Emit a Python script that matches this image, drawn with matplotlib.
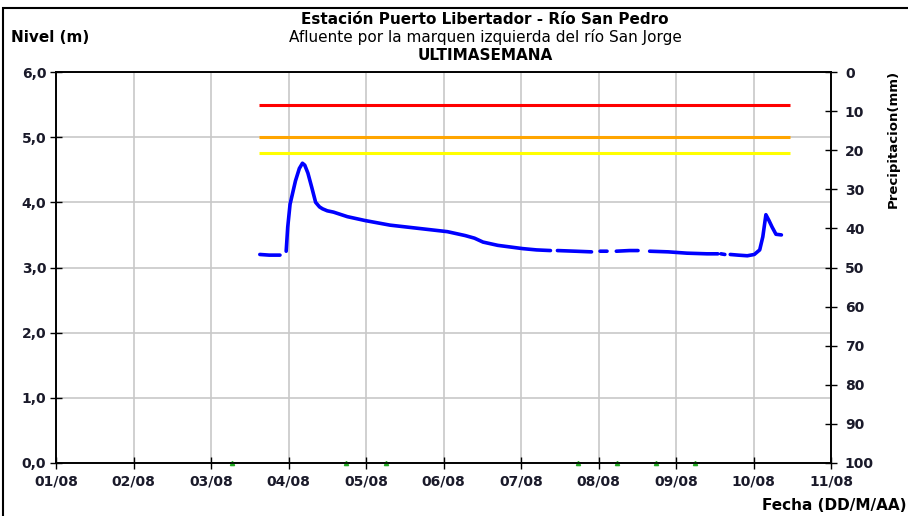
import numpy as np
import matplotlib
matplotlib.use("Agg")
import matplotlib.pyplot as plt
from matplotlib.patches import Rectangle

nan = np.nan

# day offsets from 01/08 and river level (m); nan = gap in record
nivel_dias = [2.63, 2.75, 2.89, 2.93, 2.97, 2.99, 3.02, 3.09, 3.14, 3.18, 3.21, 3.25,
              3.30, 3.35, 3.40, 3.44, 3.50, 3.58, 3.76, 3.99, 4.31, 4.68, 5.05, 5.28,
              5.40, 5.51, 5.70, 6.02, 6.20, 6.38, 6.42, 6.47, 6.70, 6.91, 6.96, 7.02,
              7.11, 7.17, 7.23, 7.40, 7.51, 7.58, 7.66, 7.90, 8.14, 8.40, 8.54, 8.56,
              8.58, 8.63, 8.66, 8.70, 8.80, 8.92, 9.01, 9.08, 9.12, 9.16, 9.20, 9.24,
              9.29, 9.36]
nivel_m = [3.20, 3.19, 3.19, nan, 3.25, 3.62, 3.97, 4.33, 4.52, 4.60, 4.57, 4.45,
           4.23, 4.00, 3.93, 3.90, 3.87, 3.85, 3.78, 3.72, 3.65, 3.60, 3.55, 3.49,
           3.45, 3.39, 3.34, 3.29, 3.27, 3.26, nan, 3.26, 3.25, 3.24, nan, 3.25,
           3.25, nan, 3.25, 3.26, 3.26, nan, 3.25, 3.24, 3.22, 3.21, 3.21, nan,
           3.21, 3.20, nan, 3.20, 3.19, 3.18, 3.20, 3.27, 3.47, 3.81, 3.72, 3.62,
           3.51, 3.50]

# alert thresholds (m)
umbral_rojo = 5.5
umbral_naranja = 5.0
umbral_amarillo = 4.75
umbral_inicio = 2.62
umbral_fin = 9.47

# precipitation records (shown as small marks on the base line)
precip_dias = [2.27, 3.74, 4.26, 6.74, 7.24, 7.74, 8.25]
precip_mm = [0, 0, 0, 0, 0, 0, 0]

fechas = ["01/08", "02/08", "03/08", "04/08", "05/08", "06/08",
          "07/08", "08/08", "09/08", "10/08", "11/08"]

plt.rcParams['font.family'] = ['DejaVu Sans']
plt.rcParams['font.size'] = 10

fig = plt.figure(figsize=(9.08, 5.16), dpi=100)
ax = fig.add_axes([56 / 908, 1 - 463 / 516, 775 / 908, 391 / 516])

ax.set_xlim(0, 10)
ax.set_ylim(0, 6)
ax.set_xticks(range(11))
ax.set_xticklabels(fechas, fontweight='bold', color='#1a1a2a')
ax.set_yticks(np.arange(0, 6.1, 1))
ax.set_yticklabels([("%.1f" % v).replace(".", ",") for v in np.arange(0, 6.1, 1)],
                   fontweight='bold', color='#1a1a2a')
ax.tick_params(direction='inout', length=8, width=1, pad=3)
ax.tick_params(axis='x', pad=4)
ax.grid(True, color='#c8c8c8', linewidth=1.2)
ax.set_axisbelow(True)
for s in ax.spines.values():
    s.set_linewidth(1.2)

ax.hlines([umbral_rojo, umbral_naranja, umbral_amarillo], umbral_inicio, umbral_fin,
          colors=['#ff0000', '#ffa500', '#ffff00'], linewidth=2.2, zorder=3)

ax.plot(nivel_dias, nivel_m, color='#0000ff', linewidth=2.6, zorder=4,
        solid_capstyle='round')
ax.plot(precip_dias, precip_mm, linestyle='none', marker='^', markersize=3,
        color='#22aa22', clip_on=False, zorder=5)

ax2 = ax.twinx()
ax2.set_ylim(100, 0)
ax2.set_yticks(range(0, 101, 10))
ax2.set_yticklabels([str(v) for v in range(0, 101, 10)], fontweight='bold',
                    color='#1a1a2a')
ax2.tick_params(direction='inout', length=8, width=1, pad=6)
for s in ax2.spines.values():
    s.set_linewidth(1.2)
ax2.set_ylabel("Precipitacion(mm)", fontweight='bold', fontsize=9.5)
ax2.yaxis.set_label_coords(1.072, 0.83)

fig.text(485 / 908, 1 - 19 / 516, "Estación Puerto Libertador - Río San Pedro",
         ha='center', va='center', fontweight='bold', fontsize=11)
fig.text(485 / 908, 1 - 37 / 516, "Afluente por la marquen izquierda del río San Jorge",
         ha='center', va='center', fontsize=11)
fig.text(485 / 908, 1 - 55 / 516, "ULTIMASEMANA", ha='center', va='center',
         fontweight='bold', fontsize=11)
fig.text(11 / 908, 1 - 37 / 516, "Nivel (m)", ha='left', va='center',
         fontweight='bold', fontsize=11)
fig.text(906 / 908, 1 - 505 / 516, "Fecha (DD/M/AA)", ha='right', va='center',
         fontweight='bold', fontsize=11)

fig.patches.append(Rectangle((3 / 908, -0.1), 1.2, 1 - 8 / 516 + 0.1,
                             transform=fig.transFigure, fill=False,
                             edgecolor='black', linewidth=1.5))

fig.savefig("out.png", dpi=100)
